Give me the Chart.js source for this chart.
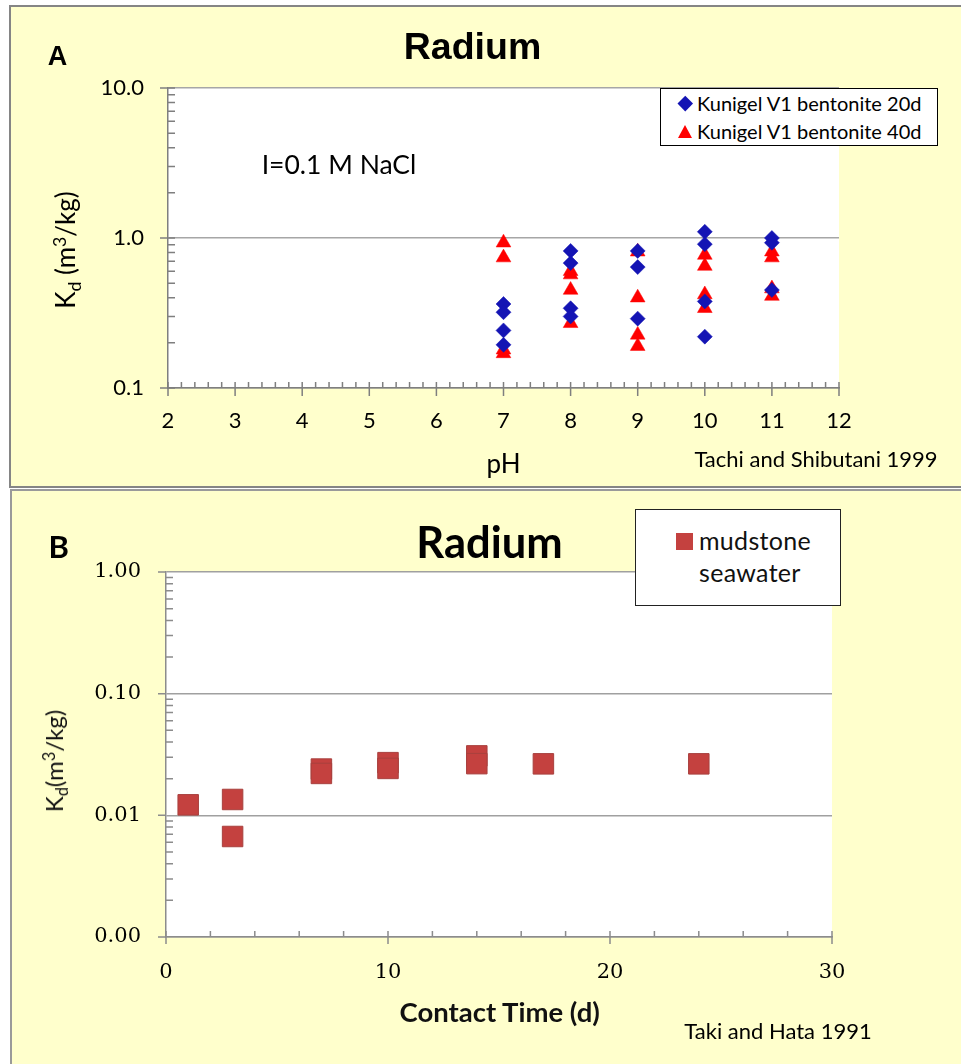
<!DOCTYPE html>
<html><head><meta charset="utf-8">
<script src="https://cdn.jsdelivr.net/npm/chart.js@4.4.0/dist/chart.umd.min.js"></script>
<style>
html,body{margin:0;padding:0;background:#fff;width:961px;height:1064px;overflow:hidden;position:relative;font-family:Lato,sans-serif;}
.panel{position:absolute;background:#ffffcc;box-sizing:border-box;}
#pA{left:9px;top:5px;width:960px;height:483px;border:2px solid #858585;}
#pB{left:10px;top:489px;width:960px;height:580px;border:2px solid #9a9a9a;}
canvas{position:absolute;left:0;}
.t{position:absolute;line-height:1;white-space:nowrap;transform:translate(-50%,-50%);color:#000;}
.tl{position:absolute;line-height:1;white-space:nowrap;transform:translate(0,-50%);color:#000;}
.rot{transform:translate(-50%,-50%) rotate(-90deg);}
.sub{font-size:.68em;position:relative;top:.32em;}
.sup{font-size:.68em;position:relative;top:-.5em;}
.box{position:absolute;background:#fff;box-sizing:border-box;}
</style></head>
<body>
<div class="panel" id="pA"></div>
<div class="panel" id="pB"></div>
<canvas id="cA" width="961" height="488" style="top:0"></canvas>
<canvas id="cB" width="961" height="576" style="top:488px"></canvas>

<div class="t" style="left:57.5px;top:56px;font:bold 27px 'Liberation Sans';">A</div>
<div class="t" style="left:472.5px;top:45.5px;font:bold 37.5px 'Liberation Sans';">Radium</div>
<div class="t" style="left:339px;top:164px;font-size:26.5px;">I=0.1 M NaCl</div>
<div class="t" style="left:503.5px;top:462.5px;font-size:26px;">pH</div>
<div class="t rot" style="left:65px;top:250px;font-size:26px;">K<span class="sub">d</span> (m<span class="sup">3</span>/kg)</div>
<div class="t" style="left:816px;top:459px;font-size:22px;">Tachi and Shibutani 1999</div>
<div class="box" style="left:660px;top:88px;width:278px;height:58px;border:1.5px solid #000;"></div>
<div style="position:absolute;left:679.75px;top:97.75px;width:10.5px;height:10.5px;background:#1414B4;transform:rotate(45deg);"></div>
<div style="position:absolute;left:677.5px;top:125px;width:0;height:0;border-left:7.5px solid transparent;border-right:7.5px solid transparent;border-bottom:13px solid #FF0000;"></div>
<div class="tl" id="legA0" style="left:697px;top:102.5px;font-size:20px;"></div>
<div class="tl" id="legA1" style="left:697px;top:130.8px;font-size:20px;"></div>

<div class="t" style="left:58.8px;top:546px;font-weight:bold;font-size:31px;">B</div>
<div class="t" style="left:489.5px;top:542px;font-weight:bold;font-size:43.5px;">Radium</div>
<div class="t rot" style="left:54px;top:761px;font-size:24px;color:#111;">K<span class="sub">d</span>(m<span class="sup">3</span>/kg)</div>
<div class="t" style="left:499.7px;top:1011.5px;font-weight:bold;font-size:27.5px;color:#111;">Contact Time (d)</div>
<div class="t" style="left:778px;top:1031px;font-size:22px;">Taki and Hata 1991</div>
<div class="box" style="left:635px;top:509px;width:206px;height:97px;border:1.5px solid #222;"></div>
<div style="position:absolute;left:676px;top:533px;width:17px;height:17px;background:#C4413F;"></div>
<div class="tl" id="legB0" style="left:699px;top:540.3px;font-size:25px;color:#111;letter-spacing:0.3px;"></div>
<div class="tl" id="legB1" style="left:699px;top:572px;font-size:25px;color:#111;letter-spacing:0.3px;"></div>

<script>
// ---- Panel A data (Tachi and Shibutani 1999) ----
const seriesNamesA = ['Kunigel V1 bentonite 20d', 'Kunigel V1 bentonite 40d'];
const pH20d = [7, 7, 7, 7, 8, 8, 8, 8, 9, 9, 9, 10, 10, 10, 10, 11, 11, 11];
const kd20d = [0.363, 0.32, 0.242, 0.194, 0.82, 0.68, 0.34, 0.30, 0.82, 0.64, 0.29, 1.10, 0.91, 0.378, 0.22, 1.0, 0.93, 0.45];
const pH40d = [7, 7, 7, 7, 8, 8, 8, 8, 9, 9, 9, 9, 10, 10, 10, 10, 11, 11, 11, 11];
const kd40d = [0.93, 0.74, 0.18, 0.17, 0.60, 0.57, 0.45, 0.27, 0.81, 0.40, 0.226, 0.19, 0.77, 0.65, 0.42, 0.34, 0.81, 0.74, 0.46, 0.41];
const xTicksA = [2, 3, 4, 5, 6, 7, 8, 9, 10, 11, 12];
const yTicksA = [0.1, 1, 10];

// ---- Panel B data (Taki and Hata 1991) ----
const seriesNamesB = ['mudstone', 'seawater'];
const timeB = [1, 3, 3, 7, 7, 10, 10, 14, 14, 17, 24];
const kdB = [0.0122, 0.0135, 0.0067, 0.0240, 0.0221, 0.0271, 0.0243, 0.0308, 0.0266, 0.0265, 0.0265];
const xTicksB = [0, 10, 20, 30];
const yTicksB = [0.001, 0.01, 0.1, 1];

document.getElementById('legA0').textContent = seriesNamesA[0];
document.getElementById('legA1').textContent = seriesNamesA[1];
document.getElementById('legB0').textContent = seriesNamesB[0];
document.getElementById('legB1').textContent = seriesNamesB[1];

function logMinors(majors) {
  const out = [];
  for (let i = 0; i < majors.length - 1; i++) for (let k = 2; k <= 9; k++) out.push(majors[i] * k);
  return out;
}
function linMinors(majors, step) {
  const out = [];
  for (let i = 0; i < majors.length - 1; i++) {
    const a = majors[i], b = majors[i + 1];
    const n = Math.round((b - a) / step);
    for (let k = 1; k < n; k++) out.push(a + (b - a) * k / n);
  }
  return out;
}

const plotBg = {
  id: 'plotBg',
  beforeDraw(chart) {
    const {ctx, chartArea: a} = chart;
    ctx.save(); ctx.fillStyle = '#ffffff';
    ctx.fillRect(a.left, a.top, a.right - a.left, a.bottom - a.top);
    ctx.restore();
  }
};
const tickMarks = {
  id: 'tickMarks',
  beforeDatasetsDraw(chart, args, o) {
    const {ctx, chartArea: a, scales: {x, y}} = chart;
    ctx.save(); ctx.strokeStyle = o.color; ctx.lineWidth = o.width;
    ctx.beginPath();
    o.yMajor.forEach(v => { const p = y.getPixelForValue(v); ctx.moveTo(a.left - o.yMajOut, p); ctx.lineTo(a.left + o.yMajIn, p); });
    o.yMinor.forEach(v => { const p = y.getPixelForValue(v); ctx.moveTo(a.left, p); ctx.lineTo(a.left + o.yMinIn, p); });
    o.xMajor.forEach(v => { const p = x.getPixelForValue(v); ctx.moveTo(p, a.bottom - o.xMajIn); ctx.lineTo(p, a.bottom + o.xMajOut); });
    o.xMinor.forEach(v => { const p = x.getPixelForValue(v); ctx.moveTo(p, a.bottom - o.xMinIn); ctx.lineTo(p, a.bottom); });
    ctx.stroke(); ctx.restore();
  }
};

const pts = (xs, ys) => xs.map((x, i) => ({x, y: ys[i]}));

new Chart(document.getElementById('cA'), {
  type: 'scatter',
  data: {datasets: [
    {label: seriesNamesA[0], data: pts(pH20d, kd20d), pointStyle: 'rectRot', pointRadius: 7.5,
     backgroundColor: '#1414B4', borderColor: '#1414B4', borderWidth: 0.5},
    {label: seriesNamesA[1], data: pts(pH40d, kd40d), pointStyle: 'triangle', pointRadius: 8.5,
     backgroundColor: '#FF0000', borderColor: '#FF0000', borderWidth: 0.5}
  ]},
  options: {
    responsive: false, animation: false, devicePixelRatio: 1,
    layout: {padding: {left: 68, right: 122, top: 88, bottom: 40}},
    plugins: {
      legend: {display: false}, title: {display: false}, tooltip: {enabled: false},
      tickMarks: {color: '#7f7f7f', width: 1.5, yMajor: yTicksA, yMinor: logMinors(yTicksA),
        yMajOut: 8, yMajIn: 7, yMinIn: 7, xMajor: xTicksA, xMinor: linMinors(xTicksA, 0.2),
        xMajIn: 6, xMajOut: 8, xMinIn: 6}
    },
    scales: {
      x: {type: 'linear', min: 2, max: 12,
        afterBuildTicks: s => { s.ticks = xTicksA.map(v => ({value: v})); },
        afterFit: s => { s.height = 60; },
        grid: {display: false, drawTicks: false},
        border: {display: true, color: '#7f7f7f', width: 1.5},
        ticks: {padding: 20, color: '#000', font: {family: 'Lato', size: 22}, maxRotation: 0, autoSkip: false}},
      y: {type: 'logarithmic', min: 0.1, max: 10,
        afterBuildTicks: s => { s.ticks = yTicksA.map(v => ({value: v})); },
        afterFit: s => { s.width = 100; },
        grid: {display: true, drawTicks: false, color: '#a6a6a6', lineWidth: 1.5},
        border: {display: true, color: '#7f7f7f', width: 1.5},
        ticks: {padding: 24, color: '#000', font: {family: 'Lato', size: 22}, autoSkip: false,
          callback: v => Number(v).toFixed(1)}}
    }
  },
  plugins: [plotBg, tickMarks]
});

new Chart(document.getElementById('cB'), {
  type: 'scatter',
  data: {datasets: [
    {label: seriesNamesB.join(' '), data: pts(timeB, kdB), pointStyle: 'rect', pointRadius: 14.5,
     backgroundColor: '#C4413F', borderColor: '#A8403E', borderWidth: 1}
  ]},
  options: {
    responsive: false, animation: false, devicePixelRatio: 1,
    layout: {padding: {left: 66, right: 129, top: 84, bottom: 67}},
    plugins: {
      legend: {display: false}, title: {display: false}, tooltip: {enabled: false},
      tickMarks: {color: '#8c8c8c', width: 1.5, yMajor: yTicksB, yMinor: logMinors(yTicksB),
        yMajOut: 8, yMajIn: 0, yMinIn: 7, xMajor: xTicksB, xMinor: linMinors(xTicksB, 2),
        xMajIn: 6, xMajOut: 7, xMinIn: 6}
    },
    scales: {
      x: {type: 'linear', min: 0, max: 30,
        afterBuildTicks: s => { s.ticks = xTicksB.map(v => ({value: v})); },
        afterFit: s => { s.height = 60; },
        grid: {display: false, drawTicks: false},
        border: {display: true, color: '#8c8c8c', width: 1.5},
        ticks: {padding: 23, color: '#000', font: {family: 'DejaVu Serif', size: 21}, maxRotation: 0, autoSkip: false}},
      y: {type: 'logarithmic', min: 0.001, max: 1,
        afterBuildTicks: s => { s.ticks = yTicksB.map(v => ({value: v})); },
        afterFit: s => { s.width = 100; },
        grid: {display: true, drawTicks: false, color: '#a0a0a0', lineWidth: 1.5},
        border: {display: true, color: '#8c8c8c', width: 1.5},
        ticks: {padding: 25, color: '#000', font: {family: 'DejaVu Serif', size: 21}, autoSkip: false,
          callback: v => Number(v).toFixed(2)}}
    }
  },
  plugins: [plotBg, tickMarks]
});
</script>
</body></html>
